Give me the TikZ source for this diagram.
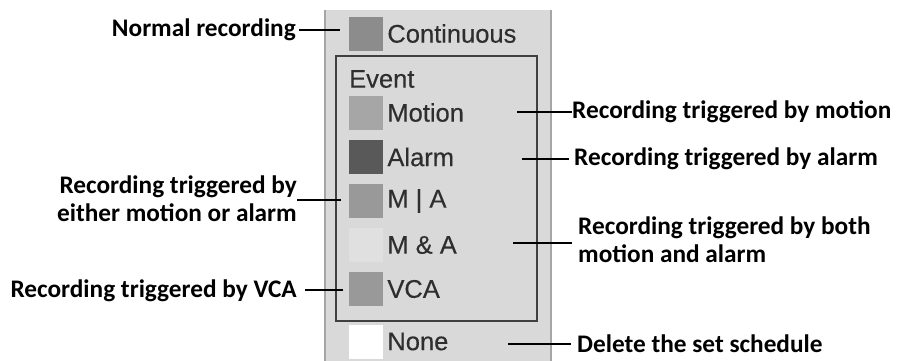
\documentclass[tikz,border=0pt]{standalone}
\usepackage{fontspec}
\setmainfont{Liberation Sans}
\newfontfamily\notefont{Carlito}
\newfontfamily\itemfont[FakeBold=0.3]{Liberation Sans}
\usetikzlibrary{positioning}

\definecolor{panelgray}{HTML}{D9D9D9}
\definecolor{paneledge}{HTML}{A6A6A6}
\definecolor{itemtext}{HTML}{2E2E2E}

\begin{document}
\begin{tikzpicture}[x=1pt,y=-1pt,
    swatch/.style={minimum width=34pt,minimum height=34pt,inner sep=0pt,draw=none},
    item/.style={anchor=west,inner sep=0pt,text=itemtext,font=\itemfont\fontsize{25.5}{27}\selectfont},
    note/.style={inner sep=0pt,align=left,font=\notefont\bfseries\fontsize{25.3}{28}\selectfont},
    link/.style={line width=2pt}]
  \useasboundingbox (0,0) rectangle (898,360);
  % panel and event box
  \fill[panelgray] (325,10) rectangle (551,370);
  \draw[paneledge,line width=1.2pt] (325,10) -- (325,370) (551,10) -- (551,370);
  \draw[black!75,line width=1.6pt] (336,56) rectangle (537,321);
  \node[item] (event) at (349,79) {Event};
  % swatches with their labels
  \foreach \nm/\col/\y/\lab in {cont/black!45/33.5/Continuous,
      motion/black!35/112.5/Motion, alarm/black!65/157/Alarm,
      ma/black!40/201/M | A, mand/black!12/245/M \& A,
      vca/black!40/289/VCA, none/white/341.5/None}{
    \node[swatch,fill=\col] (sw-\nm) at (366,\y) {};
    \node[item,right=4pt of sw-\nm] (lb-\nm) {\lab};
  }
  % notes on the left
  \node[note,anchor=east] (n-cont) at (296,30) {Normal recording};
  \node[note,anchor=east,align=right] (n-ma) at (297,199) {Recording triggered by\\either motion or alarm};
  \node[note,anchor=east] (n-vca) at (297,291) {Recording triggered by VCA};
  \coordinate (a-cont) at (340,30);
  \coordinate (a-ma) at (341,200);
  \coordinate (a-vca) at (343,290);
  \draw[link] ([xshift=3pt]n-cont.east) -- (a-cont);
  \draw[link] (a-ma) -- (a-ma -| n-ma.east);
  \draw[link] (a-vca) -- ([xshift=8pt]a-vca -| n-vca.east);
  % notes on the right
  \node[note,anchor=west] (n-motion) at (572,112) {Recording triggered by motion};
  \node[note,anchor=west] (n-alarm) at (574,159) {Recording triggered by alarm};
  \node[note,anchor=west] (n-mand) at (578,240) {Recording triggered by both\\motion and alarm};
  \node[note,anchor=west] (n-none) at (577,344) {Delete the set schedule};
  \coordinate (a-motion) at (517,112);
  \coordinate (a-alarm) at (522,159);
  \coordinate (a-mand) at (513,243);
  \coordinate (a-none) at (508,344);
  \draw[link] (a-motion) -- (n-motion.west);
  \draw[link] (a-alarm) -- ([xshift=-5pt]n-alarm.west);
  \draw[link] (a-mand) -- ([xshift=-6pt]a-mand -| n-mand.west);
  \draw[link] (a-none) -- ([xshift=-6pt]n-none.west);
\end{tikzpicture}
\end{document}
